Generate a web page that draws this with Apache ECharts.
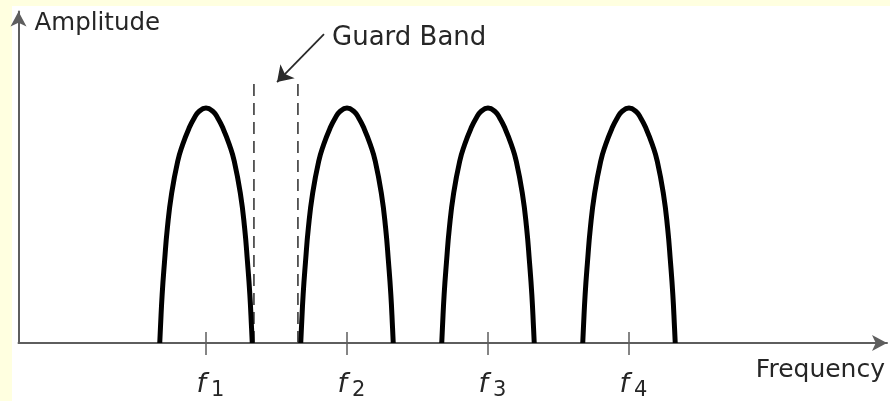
<!DOCTYPE html>
<html>
<head>
<meta charset="utf-8">
<script src="https://cdn.jsdelivr.net/npm/echarts@6/dist/echarts.min.js"></script>
<style>
  html, body { margin: 0; padding: 0; background: #FFFFE0; }
  #paper { position: absolute; left: 12px; top: 6px; right: 0; bottom: 0; background: #FFFFFF; }
  #chart { position: absolute; left: 0; top: 0; width: 890px; height: 401px; }
</style>
</head>
<body>
<div id="paper"></div>
<div id="chart"></div>
<script>
// ---- data ----
// carrier centre frequencies (f1..f4) in axis units
const carrierCenters = [1, 2, 3, 4];
const tickSubscripts = ['1', '2', '3', '4'];
// measured hump profile (one side): offset from centre, relative amplitude
const humpOffsets = [0, 0.051, 0.084, 0.120, 0.166, 0.201, 0.245, 0.274, 0.294, 0.311, 0.323, 0.328];
const humpHeights = [1, 0.984, 0.956, 0.914, 0.843, 0.772, 0.631, 0.489, 0.347, 0.206, 0.065, 0];
// guard band dashed markers
const guardBandX = [1.340, 1.652];
const guardBandTop = 1.106;
// guard band annotation arrow (start -> tip) and label anchor
const guardArrowStart = [1.837, 1.314];
const guardArrowEnd = [1.504, 1.110];
const guardLabelPos = [1.894, 1.297];
const guardLabelText = 'Guard Band';
const xName = 'Frequency';
const yName = 'Amplitude';

// build hump polylines from the measured profile
function humpData(c) {
  const pts = [];
  for (let i = humpOffsets.length - 1; i >= 0; i--) pts.push([c - humpOffsets[i], humpHeights[i]]);
  for (let i = 1; i < humpOffsets.length; i++) pts.push([c + humpOffsets[i], humpHeights[i]]);
  return pts;
}

const FONT = 'DejaVu Sans';
const TXT = '#262626';
const AX = '#5e5e5e';
const XMIN = -0.3298, XMAX = 5.830;

const series = [];
carrierCenters.forEach(c => {
  series.push({
    type: 'line', xAxisIndex: 0, yAxisIndex: 0,
    data: humpData(c), showSymbol: false, smooth: 0.5,
    lineStyle: { color: '#000', width: 5, join: 'round' }, z: 3, silent: true
  });
});
guardBandX.forEach(x => {
  series.push({
    type: 'line', xAxisIndex: 0, yAxisIndex: 0,
    data: [[x, 0], [x, guardBandTop]], showSymbol: false,
    lineStyle: { color: '#444', width: 1.7, type: [12, 7] }, z: 2, silent: true
  });
});
series.push({
  type: 'lines', coordinateSystem: 'cartesian2d', xAxisIndex: 0, yAxisIndex: 0,
  data: [{ coords: [guardArrowStart, guardArrowEnd] }],
  symbol: ['none', 'arrow'], symbolSize: 15,
  lineStyle: { color: '#2a2a2a', width: 1.8, opacity: 1 }, silent: true
});
series.push({
  type: 'scatter', xAxisIndex: 0, yAxisIndex: 0,
  data: [guardLabelPos], symbolSize: 0, silent: true,
  itemStyle: { opacity: 1 },
  label: {
    show: true, position: 'right', distance: 0, formatter: guardLabelText,
    fontFamily: FONT, fontSize: 26, color: TXT, opacity: 1, verticalAlign: 'middle'
  }
});

const chart = echarts.init(document.getElementById('chart'), null, { renderer: 'canvas' });
chart.setOption({
  animation: false,
  backgroundColor: 'transparent',
  grid: { left: 18.5, right: 3, top: 11.5, bottom: 57.5, containLabel: false },
  xAxis: [{
    type: 'value', min: XMIN, max: XMAX,
    name: xName, nameLocation: 'end', nameGap: -2,
    nameTextStyle: { fontFamily: FONT, fontSize: 25, color: TXT, align: 'right', verticalAlign: 'top', padding: [15, 0, 0, 0] },
    axisLine: { show: true, onZero: false, symbol: ['none', 'arrow'], symbolSize: [12, 15], lineStyle: { color: AX, width: 2 } },
    axisTick: { show: true, customValues: carrierCenters, length: 12, lineStyle: { color: AX, width: 1.5 } },
    axisLabel: {
      show: true, customValues: carrierCenters, margin: 28, padding: [0, 0, 0, 9],
      formatter: v => '{f|f}{s|' + tickSubscripts[carrierCenters.indexOf(v)] + '}',
      rich: {
        f: { fontFamily: FONT, fontStyle: 'italic', fontSize: 27, color: TXT, lineHeight: 30, verticalAlign: 'top' },
        s: { fontFamily: FONT, fontSize: 21, color: TXT, lineHeight: 14, verticalAlign: 'bottom', padding: [0, 0, 0, 5] }
      }
    },
    splitLine: { show: false }
  }, {
    type: 'value', min: XMIN, max: XMAX, position: 'bottom', offset: 0,
    axisLine: { show: false },
    axisTick: { show: true, inside: true, customValues: carrierCenters, length: 11, lineStyle: { color: AX, width: 1.5 } },
    axisLabel: { show: false },
    splitLine: { show: false }
  }],
  yAxis: {
    type: 'value', min: 0, max: 1.410,
    name: yName, nameLocation: 'end', nameGap: -12,
    nameTextStyle: { fontFamily: FONT, fontSize: 24.5, color: TXT, align: 'left', verticalAlign: 'middle', padding: [0, 0, 0, 16] },
    axisLine: { show: true, onZero: false, symbol: ['none', 'arrow'], symbolSize: [12, 15], lineStyle: { color: AX, width: 2 } },
    axisTick: { show: false }, axisLabel: { show: false }, splitLine: { show: false }
  },
  series: series
});
</script>
</body>
</html>
